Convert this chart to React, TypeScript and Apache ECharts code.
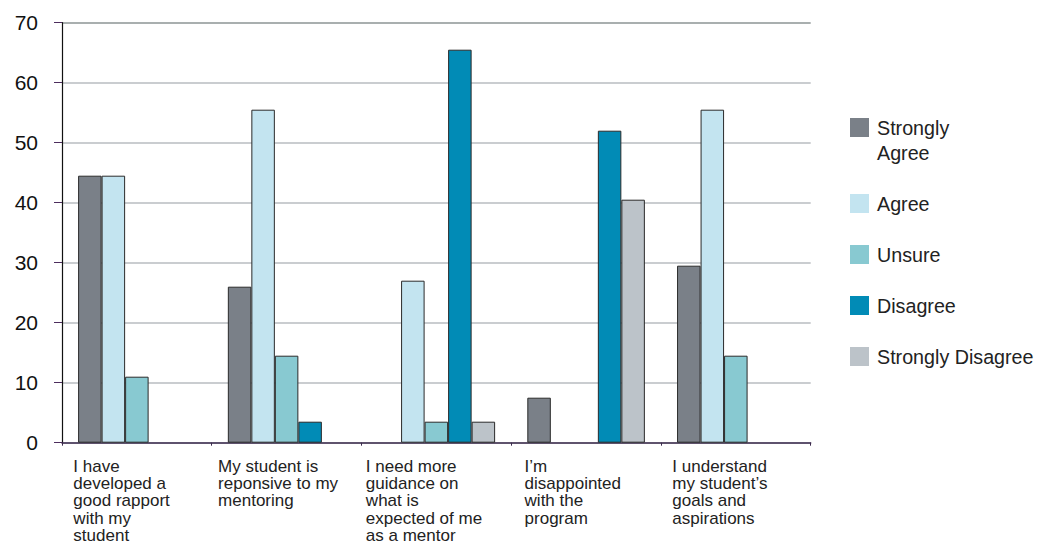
import React, { useEffect, useRef } from "react";
import * as echarts from "echarts";

// Survey statements (line breaks as printed under each group)
const categories = [
  "I have\ndeveloped a\ngood rapport\nwith my\nstudent",
  "My student is\nreponsive to my\nmentoring",
  "I need more\nguidance on\nwhat is\nexpected of me\nas a mentor",
  "I’m\ndisappointed\nwith the\nprogram",
  "I understand\nmy student’s\ngoals and\naspirations",
];

const seriesNames = ["Strongly Agree", "Agree", "Unsure", "Disagree", "Strongly Disagree"];

// Percentage of responses per statement
const stronglyAgree = [44.5, 26, null, 7.5, 29.5];
const agree = [44.5, 55.5, 27, null, 55.5];
const unsure = [11, 14.5, 3.5, null, 14.5];
const disagree = [null, 3.5, 65.5, 52, null];
const stronglyDisagree = [null, null, 3.5, 40.5, null];

const yTicks = { min: 0, max: 70, interval: 10 };

const colors = ["#7a8088", "#c3e4f0", "#88c9d1", "#018bb6", "#bcc3c9"];
// width of the text block under each group (lines are left-aligned inside it)
const labelBlockWidths = [127, 137, 141, 123, 127];

const FONT = "'Liberation Sans', Arial, sans-serif";

export default function App() {
  const ref = useRef<HTMLDivElement>(null);

  useEffect(() => {
    if (!ref.current) return;
    const chart = echarts.init(ref.current, undefined, { renderer: "svg" });

    const values = [stronglyAgree, agree, unsure, disagree, stronglyDisagree];

    const rich: Record<string, any> = {};
    labelBlockWidths.forEach((w, i) => {
      rich["c" + i] = {
        width: w,
        align: "left",
        fontSize: 17,
        lineHeight: 17.3,
        fontFamily: FONT,
        color: "#222",
      };
    });

    const gridLineColors = ["#b8bdc0", "#b8bdc0", "#b8bdc0", "#b8bdc0", "#b8bdc0", "#b8bdc0", "#b8bdc0", "#8d9595"];

    chart.setOption({
      animation: false,
      backgroundColor: "#ffffff",
      grid: { left: 62, top: 22.7, right: 232.3, bottom: 104.3, containLabel: false },
      legend: {
        orient: "vertical",
        left: 850,
        top: 90,
        padding: 0,
        itemWidth: 19,
        itemHeight: 19,
        itemGap: 26,
        icon: "rect",
        itemStyle: { borderWidth: 0 },
        textStyle: {
          fontSize: 19.7,
          lineHeight: 25,
          fontFamily: FONT,
          color: "#222",
          padding: [0, 0, 0, 3],
        },
        // two-line entry: a leading blank line keeps "Strongly" level with the swatch
        formatter: (name: string) => (name === "Strongly Agree" ? "\nStrongly\nAgree" : name),
        data: seriesNames,
      },
      xAxis: {
        type: "category",
        data: categories,
        axisLine: { lineStyle: { color: "#3b2a4d", width: 1.5 } },
        axisTick: { show: true, length: 3, lineStyle: { color: "#3b2a4d", width: 1 } },
        axisLabel: {
          interval: 0,
          margin: 15,
          align: "center",
          formatter: (value: string, index: number) =>
            value
              .split("\n")
              .map((l) => `{c${index}|${l}}`)
              .join("\n"),
          rich,
        },
        splitLine: { show: false },
      },
      yAxis: {
        type: "value",
        min: yTicks.min,
        max: yTicks.max,
        interval: yTicks.interval,
        axisLine: { show: true, lineStyle: { color: "#111", width: 1.2 } },
        axisTick: { show: true, length: 8, lineStyle: { color: "#4d2d5d", width: 1 } },
        axisLabel: { fontSize: 21, fontFamily: FONT, color: "#111", margin: 24 },
        splitLine: { show: true, lineStyle: { color: gridLineColors, width: 1.5 } },
      },
      series: seriesNames.map((name, i) => ({
        name,
        type: "bar",
        data: values[i],
        barGap: "0%",
        barCategoryGap: "21.5%",
        itemStyle: { color: colors[i], borderColor: "#2a2a2a", borderWidth: 1 },
      })),
    });

    return () => chart.dispose();
  }, []);

  return (
    <div
      ref={ref}
      style={{ position: "fixed", left: 0, top: 0, width: 1043, height: 547, background: "#fff" }}
    />
  );
}
